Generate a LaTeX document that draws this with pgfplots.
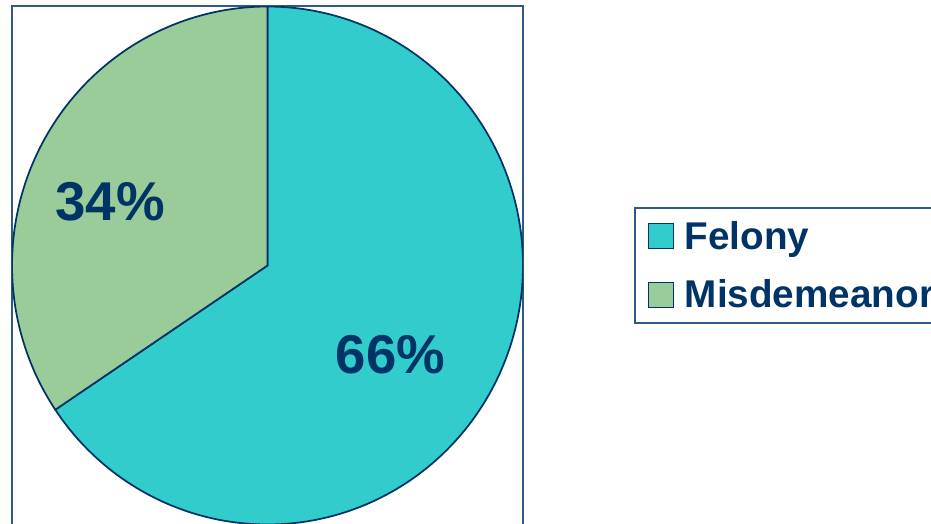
\documentclass[border=0pt]{standalone}
\usepackage{pgfplots}
\pgfplotsset{compat=1.18}
\usepackage{pgfplotstable}
\usepackage{fontspec}
\setmainfont{Liberation Sans}
\definecolor{felony}{HTML}{33CCCC}
\definecolor{misd}{HTML}{99CC99}
\definecolor{navy}{HTML}{003366}
\definecolor{frame}{HTML}{2E5A88}
\pgfplotstableread{
label value
Felony 65.6
Misdemeanor 34.4
}\piedata
\pgfplotstablegetelem{0}{value}\of\piedata \let\vfel\pgfplotsretval
\pgfplotstablegetelem{1}{value}\of\piedata \let\vmis\pgfplotsretval
\pgfmathsetmacro{\afel}{90-3.6*\vfel}
\pgfmathsetmacro{\amis}{90+3.6*\vmis}
\begin{document}
\begin{tikzpicture}
\useasboundingbox (0pt,0pt) rectangle (698.25pt,-393pt);
\begin{axis}[
  at={(9pt,-4.875pt)}, anchor=north west,
  scale only axis, width=383.25pt, height=402.1pt,
  xmin=-1, xmax=1, ymin=-1.07, ymax=1,
  xtick=\empty, ytick=\empty,
  axis line style={draw=frame, line width=1.5pt},
  legend style={at={(1.2172,0.6262)}, anchor=north west,
    draw=frame, line width=1.3pt, text=navy,
    font=\bfseries\fontsize{29}{34}\selectfont,
    inner xsep=9.75pt, inner ysep=8pt, row sep=17.5pt, column sep=6pt,
    nodes={inner sep=2pt}},
  legend cell align=left,
  legend image code/.code={\draw[#1, draw=navy, line width=1pt] (0pt,-9.4pt) rectangle (18.75pt,9.4pt);},
]
\addplot[fill=felony, draw=navy, line width=1.3pt, domain=\afel:90, samples=200, variable=\t]
  ({cos(\t)},{sin(\t)}) -- (axis cs:0,0) -- cycle;
\addlegendentry{Felony}
\addplot[fill=misd, draw=navy, line width=1.3pt, domain=90:\amis, samples=120, variable=\t]
  ({cos(\t)},{sin(\t)}) -- (axis cs:0,0) -- cycle;
\addlegendentry{Misdemeanor}
\node[inner sep=0pt, text=navy, font=\bfseries\fontsize{41}{49}\selectfont] at (axis cs:-0.616,0.247) {\pgfmathprintnumber[fixed,precision=0,assume math mode=true]{\vmis}\%};
\node[inner sep=0pt, text=navy, font=\bfseries\fontsize{41}{49}\selectfont] at (axis cs:0.482,-0.343) {\pgfmathprintnumber[fixed,precision=0,assume math mode=true]{\vfel}\%};
\end{axis}
\end{tikzpicture}
\end{document}
